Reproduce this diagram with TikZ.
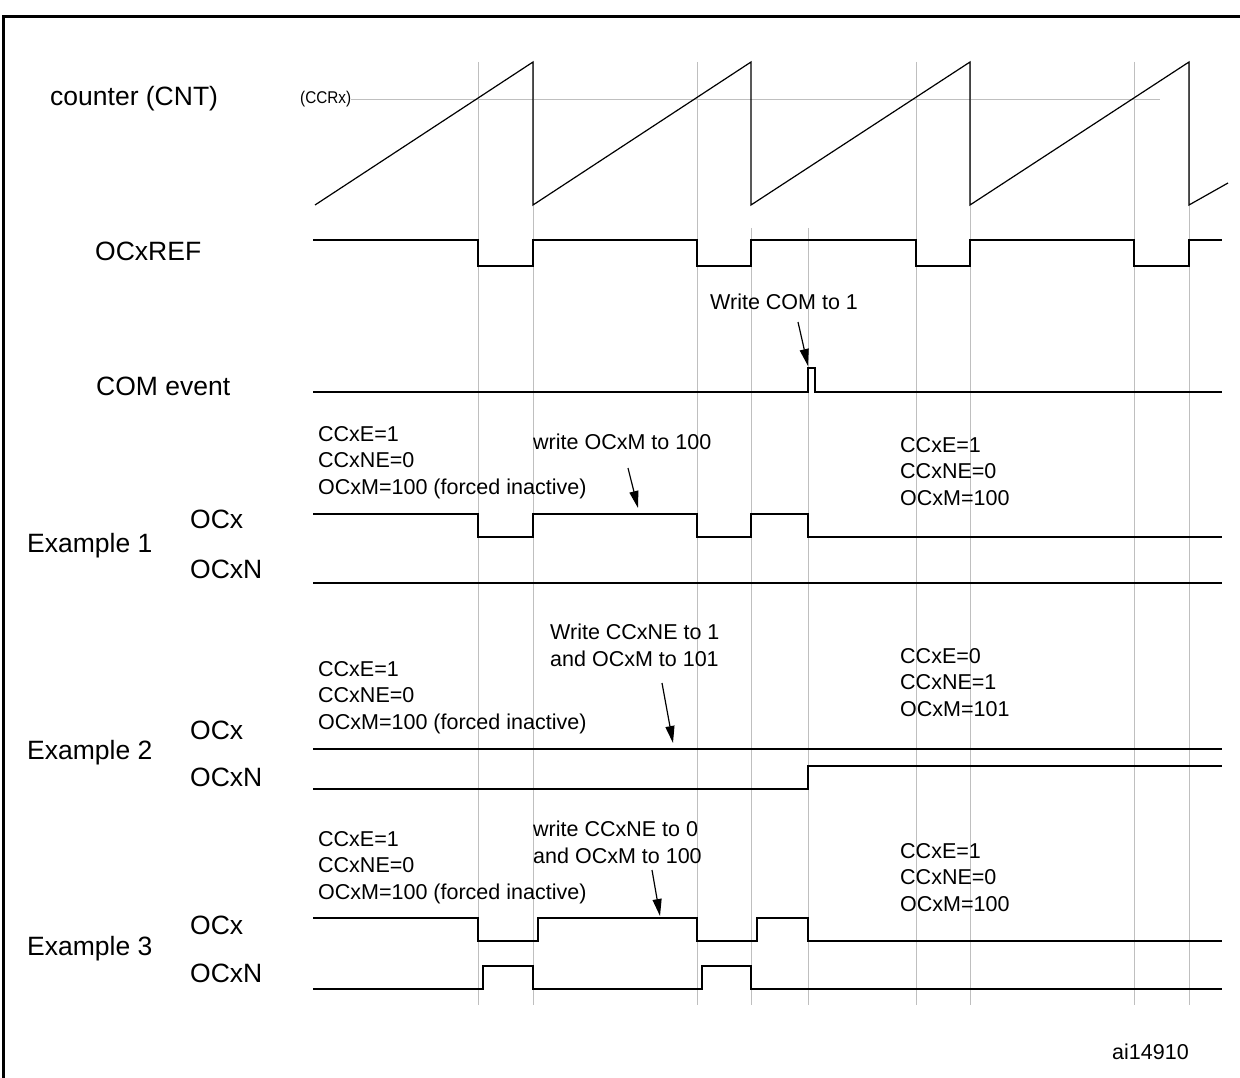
\documentclass[tikz,border=0pt]{standalone}
\usepackage{fontspec}
\setmainfont{Liberation Sans}
\usetikzlibrary{arrows.meta}
\begin{document}
\begin{tikzpicture}[x=1pt,y=-1pt,
  sig/.style={line width=1.4pt,line join=miter},
  grid/.style={draw=black!25,line width=0.8pt},
  lbl/.style={font=\fontsize{26.5}{30}\selectfont,anchor=west,inner sep=0},
  note/.style={font=\fontsize{21.5}{26.5}\selectfont,anchor=north west,align=left,inner sep=0},
  arr/.style={line width=1.2pt,-{Triangle[length=17pt,width=9pt]}}]
\useasboundingbox (0,0) rectangle (1240,1078);
\draw[line width=3pt] (3,1078) -- (3,17) -- (1240,17);
% grid lines
\foreach \x in {478,533,697,916,970,1134,1189} \draw[grid] (\x,62) -- (\x,1005);
\foreach \x in {751,808} \draw[grid] (\x,228) -- (\x,1005);
% counter
\node[lbl] (cnt) at (50,99) {counter (CNT)};
\node[font=\fontsize{17}{19}\selectfont,anchor=west,inner sep=0,xscale=0.9] (ccrx) at (300,99) {(CCRx)};
\coordinate (ccrxe) at (1160,99);
\draw[grid] (ccrx.east) -- (ccrxe);
\draw[line width=1.2pt] (315,205) -- (533,62) -- (533,205) -- (751,62) -- (751,205) -- (970,62) -- (970,205) -- (1189,62) -- (1189,205) -- (1228,183);
% OCxREF
\node[lbl] (ref) at (95,251) {OCxREF};
\draw[sig] (313,240) -- (478,240) |- (533,266) |- (697,240) |- (751,266) |- (916,240) |- (970,266) |- (1134,240) |- (1189,266) |- (1222,240);
% COM event
\node[lbl] (com) at (96,386) {COM event};
\draw[sig] (313,392) -- (808,392) |- (815,368) |- (1222,392);
\node[note,anchor=west] (wcom) at (710,302) {Write COM to 1};
\coordinate (comp) at (808,366);
\draw[arr] (798,322) -- (comp);
% Example 1
\node[lbl] (e1) at (27,546) {Example 1};
\node[lbl] (e1a) at (190,519) {OCx};
\node[lbl] (e1b) at (190,569) {OCxN};
\node[note] (e1t) at (318,426) {CCxE=1\\CCxNE=0\\OCxM=100 (forced inactive)};
\node[note] (e1w) at (533,434) {write OCxM to 100};
\node[note] (e1r) at (900,437) {CCxE=1\\CCxNE=0\\OCxM=100};
\coordinate (e1p) at (638,508);
\draw[arr] (628,468) -- (e1p);
\draw[sig] (313,514) -- (478,514) |- (533,537) |- (697,514) |- (751,537) |- (808,514) |- (1222,537);
\draw[sig] (313,583) -- (1222,583);
% Example 2
\node[lbl] (e2) at (27,753) {Example 2};
\node[lbl] (e2a) at (190,730) {OCx};
\node[lbl] (e2b) at (190,777) {OCxN};
\node[note] (e2t) at (318,661) {CCxE=1\\CCxNE=0\\OCxM=100 (forced inactive)};
\node[note] (e2w) at (550,624) {Write CCxNE to 1\\and OCxM to 101};
\node[note] (e2r) at (900,648) {CCxE=0\\CCxNE=1\\OCxM=101};
\coordinate (e2p) at (673,743);
\draw[arr] (662,683) -- (e2p);
\draw[sig] (313,749) -- (1222,749);
\draw[sig] (313,789) -- (808,789) |- (1222,766);
% Example 3
\node[lbl] (e3) at (27,949) {Example 3};
\node[lbl] (e3a) at (190,925) {OCx};
\node[lbl] (e3b) at (190,973) {OCxN};
\node[note] (e3t) at (318,831) {CCxE=1\\CCxNE=0\\OCxM=100 (forced inactive)};
\node[note] (e3w) at (533,821) {write CCxNE to 0\\and OCxM to 100};
\node[note] (e3r) at (900,843) {CCxE=1\\CCxNE=0\\OCxM=100};
\coordinate (e3p) at (660,916);
\draw[arr] (652,870) -- (e3p);
\draw[sig] (313,918) -- (478,918) |- (538,941) |- (697,918) |- (757,941) |- (808,918) |- (1222,941);
\draw[sig] (313,989) -- (483,989) |- (533,966) |- (702,989) |- (751,966) |- (1222,989);
\node[note,anchor=west] (ai) at (1112,1052) {ai14910};
\end{tikzpicture}
\end{document}
